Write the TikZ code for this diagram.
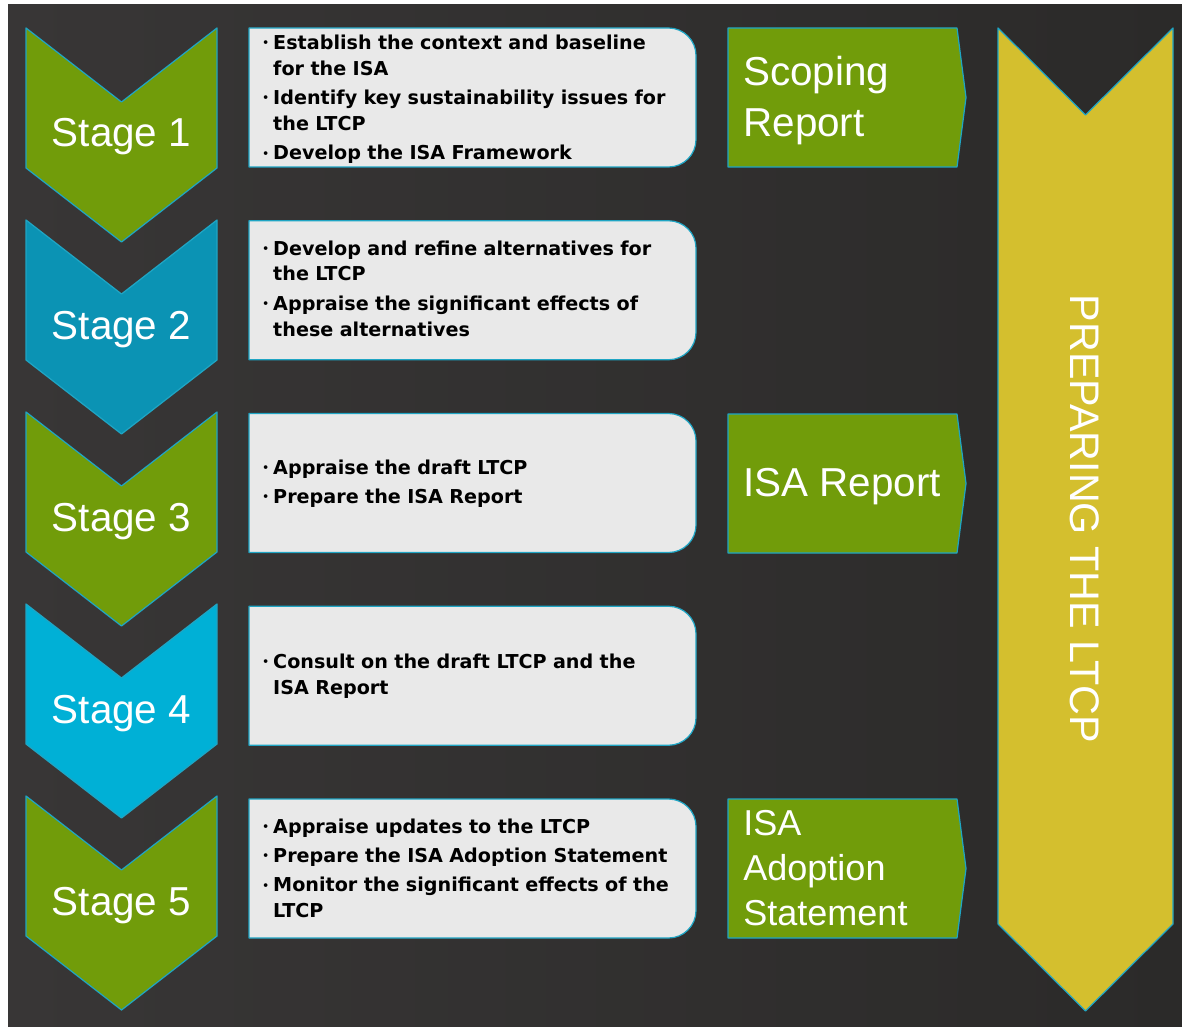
\documentclass[tikz,border=0pt]{standalone}
\usepackage{fontspec}
\setmainfont{Liberation Sans}
\newfontfamily\taskfont{DejaVu Sans}
\definecolor{bgleft}{HTML}{383636}
\definecolor{bgright}{HTML}{2B2A29}
\definecolor{leaf}{HTML}{719C0A}
\definecolor{stagetwo}{HTML}{0B93B4}
\definecolor{sky}{HTML}{00B0D6}
\definecolor{mustard}{HTML}{D4BF2E}
\definecolor{rimblue}{HTML}{1FA5C4}
\definecolor{paper}{HTML}{E9E9E9}
% one bullet point with hanging indent
\newcommand{\task}[1]{\par\hangindent=6.2pt\hangafter=1\noindent\makebox[6.2pt][l]{\raisebox{1.6pt}{\fontsize{6}{6}\selectfont\textbullet}}#1\par}
\begin{document}
\begin{tikzpicture}[x=0.02cm,y=-0.02cm,line join=round,
  outlined/.style={draw=rimblue,line width=0.7pt},
  stagetxt/.style={text=white,anchor=base,font=\fontsize{23}{28}\selectfont},
  tasktxt/.style={anchor=west,inner sep=0pt,text width=8.8cm,align=left,
    font=\taskfont\bfseries\fontsize{10.9}{14.7}\selectfont\setlength{\parskip}{2pt}},
  outtxt/.style={anchor=west,inner sep=0pt,text=white,align=left}]
\useasboundingbox (0,0) rectangle (1182,1027);
\fill[white] (0,0) rectangle (1182,1027);
\shade[left color=bgleft,right color=bgright] (8,5) rectangle (1182,1026);
% stage chevrons
\foreach \c [count=\n] in {leaf,stagetwo,leaf,sky,leaf}{
  \pgfmathsetmacro\y{28+192*(\n-1)}
  \draw[outlined,fill=\c] (26,\y) -- (121.5,\y+74) -- (217,\y) -- (217,\y+140)
    -- (121.5,\y+214) -- (26,\y+140) -- cycle;
  \node[stagetxt] (stage\n) at (121.5,\y+119) {Stage \n};
}
% task boxes, rounded on the right only
\foreach \n in {1,...,5}{
  \pgfmathsetmacro\y{28+192.75*(\n-1)}
  \draw[outlined,fill=paper] (472,\y) [rounded corners=0.55cm] -- (696,\y) -- (696,\y+139)
    -- (472,\y+139) [sharp corners] -- (249,\y+139) -- (249,\y) -- cycle;
}
\node[tasktxt] (task1) at (262,92) {\task{Establish the context and baseline\newline for the ISA}
  \task{Identify key sustainability issues for\newline the LTCP}\task{Develop the ISA Framework}};
\node[tasktxt] (task2) at (262,281) {\task{Develop and refine alternatives for\newline the LTCP}
  \task{Appraise the significant effects of\newline these alternatives}};
\node[tasktxt] (task3) at (262,476) {\task{Appraise the draft LTCP}\task{Prepare the ISA Report}};
\node[tasktxt] (task4) at (262,669) {\task{Consult on the draft LTCP and the\newline ISA Report}};
\node[tasktxt] (task5) at (262,861) {\task{Appraise updates to the LTCP}
  \task{Prepare the ISA Adoption Statement}\task{Monitor the significant effects of the\newline LTCP}};
% outputs
\foreach \y in {28,414,799}
  \draw[outlined,fill=leaf] (728,\y) -- (957,\y) -- (966,\y+69.5) -- (957,\y+139) -- (728,\y+139) -- cycle;
\node[outtxt,font=\fontsize{23}{29}\selectfont] (scoping) at (743,100.5) {Scoping\\Report};
\node[outtxt,font=\fontsize{23}{29}\selectfont] (isareport) at (743,487) {ISA Report};
\node[outtxt,font=\fontsize{20.5}{25.5}\selectfont] (adoption) at (743,868) {ISA\\Adoption\\Statement};
% overall arrow
\draw[outlined,fill=mustard] (998,28) -- (1085.5,115) -- (1173,28) -- (1173,924)
  -- (1085.5,1011) -- (998,924) -- cycle;
\node[text=white,rotate=-90,font=\fontsize{23.5}{28}\selectfont] (ltcp) at (1084.5,519) {PREPARING THE LTCP};
\end{tikzpicture}
\end{document}
